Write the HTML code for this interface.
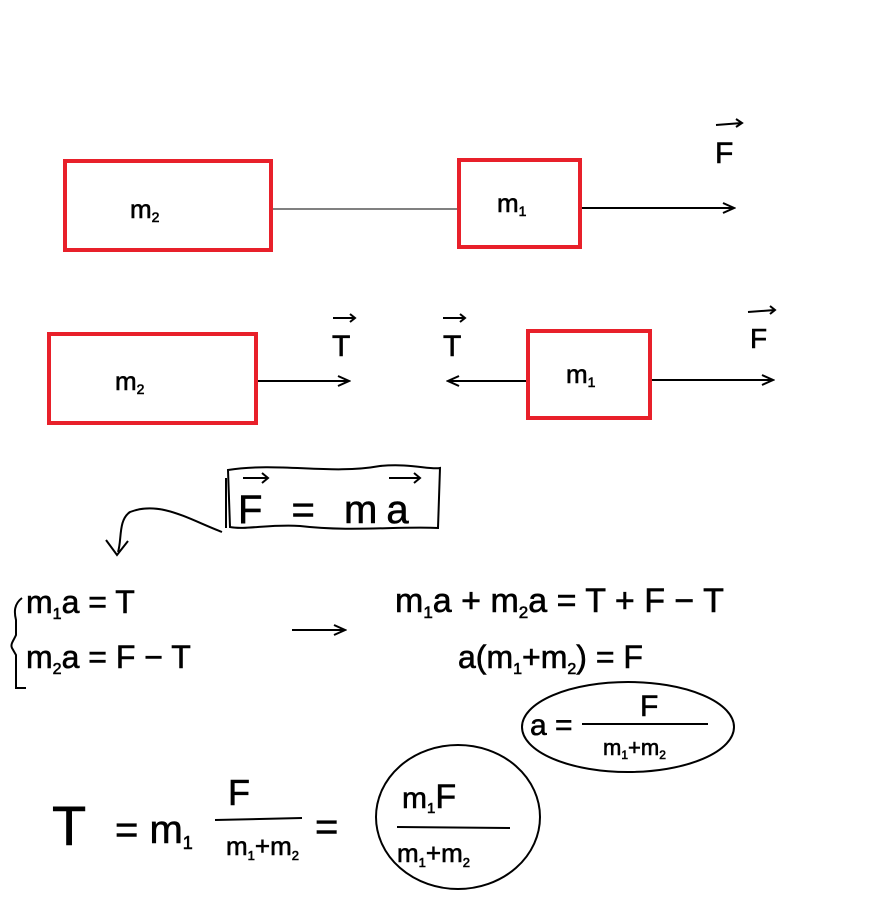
<!DOCTYPE html>
<html><head><meta charset="utf-8"><style>
html,body{margin:0;padding:0;background:#fff;}
svg{display:block;}
text{font-family:"Liberation Sans",sans-serif;fill:#000;stroke:#000;stroke-width:0.6;}
</style></head><body>
<svg width="892" height="898" viewBox="0 0 892 898" xmlns="http://www.w3.org/2000/svg">
<defs>
<marker id="ar" markerWidth="14" markerHeight="12" refX="12" refY="6" orient="auto" markerUnits="userSpaceOnUse">
<path d="M1,1 L12,6 L1,11" fill="none" stroke="#000" stroke-width="2"/>
</marker>
</defs>
<g fill="none" stroke="#e8202a" stroke-width="4">
<rect x="65" y="161" width="206" height="89"/>
<rect x="459" y="160" width="121" height="87"/>
<rect x="49" y="334" width="207" height="89"/>
<rect x="528" y="331" width="122" height="87"/>
</g>
<g stroke="#000" fill="none" stroke-width="2">
<line x1="273" y1="209" x2="457" y2="209" stroke-width="1"/>
<line x1="582" y1="208" x2="734" y2="208" marker-end="url(#ar)"/>
<line x1="258" y1="381" x2="349" y2="381" marker-end="url(#ar)"/>
<line x1="526" y1="381" x2="448" y2="381" marker-end="url(#ar)"/>
<line x1="652" y1="380" x2="773" y2="380" marker-end="url(#ar)"/>
<path d="M716 125 L742 123 M736 119 L742 123 L736 127"/>
<path d="M333 318 L355 318 M350 314 L355 318 L350 322"/>
<path d="M443 318 L465 318 M460 314 L465 318 L460 322"/>
<path d="M748 312 L775 310 M770 306 L775 310 L770 314"/>
<path d="M243 478 L268 478 M262 473 L268 478 L262 483"/>
<path d="M389 478 L420 478 M414 473 L420 478 L414 483"/>
<path d="M228 470 C280 462 330 475 380 466 C410 463 430 470 440 468 L438 528 C400 526 350 532 300 526 C270 524 245 530 230 527 Z"/>
<line x1="226" y1="478" x2="226" y2="528"/>
<path d="M222 532 C190 520 160 500 130 512 C118 520 122 540 118 552"/>
<path d="M106 540 L117 555 L128 541"/>
<path d="M22 598 C14 604 14 612 16 620 L16 635 C14 640 10 644 12 648 L16 655 L16 688 L26 688"/>
<line x1="292" y1="630" x2="345" y2="630" marker-end="url(#ar)"/>
<ellipse cx="628" cy="727" rx="106" ry="45"/>
<ellipse cx="458" cy="817" rx="82" ry="72"/>
<line x1="582" y1="724" x2="708" y2="724"/>
<line x1="215" y1="820" x2="302" y2="818"/>
<line x1="397" y1="827" x2="510" y2="828"/>
</g>
<g font-size="30">
<text x="715" y="163">F</text>
<text x="130" y="218" font-size="26">m<tspan font-size="14" dy="4">2</tspan></text>
<text x="497" y="212" font-size="26">m<tspan font-size="14" dy="4">1</tspan></text>
<text x="332" y="356">T</text>
<text x="443" y="356">T</text>
<text x="750" y="348" font-size="28">F</text>
<text x="115" y="390" font-size="26">m<tspan font-size="14" dy="4">2</tspan></text>
<text x="566" y="383" font-size="26">m<tspan font-size="14" dy="4">1</tspan></text>
<text x="238" y="523" font-size="40" letter-spacing="9">F = ma</text>
<text x="26" y="613" font-size="32">m<tspan font-size="16" dy="6">1</tspan><tspan dy="-6">a = T</tspan></text>
<text x="26" y="668" font-size="32">m<tspan font-size="16" dy="6">2</tspan><tspan dy="-6">a = F − T</tspan></text>
<text x="395" y="612" font-size="34">m<tspan font-size="17" dy="6">1</tspan><tspan dy="-6">a + m</tspan><tspan font-size="17" dy="6">2</tspan><tspan dy="-6">a = T + F − T</tspan></text>
<text x="458" y="668" font-size="32">a(m<tspan font-size="16" dy="6">1</tspan><tspan dy="-6">+m</tspan><tspan font-size="16" dy="6">2</tspan><tspan dy="-6">) = F</tspan></text>
<text x="530" y="735" font-size="30">a =</text>
<text x="640" y="716" font-size="30">F</text>
<text x="603" y="755" font-size="22">m<tspan font-size="12" dy="4">1</tspan><tspan dy="-4">+m</tspan><tspan font-size="12" dy="4">2</tspan></text>
<text x="52" y="845" font-size="56">T</text>
<text x="115" y="843" font-size="40">= m<tspan font-size="18" dy="6">1</tspan></text>
<text x="228" y="805" font-size="36">F</text>
<text x="226" y="855" font-size="26">m<tspan font-size="13" dy="5">1</tspan><tspan dy="-5">+m</tspan><tspan font-size="13" dy="5">2</tspan></text>
<text x="315" y="840" font-size="40">=</text>
<text x="402" y="808" font-size="30">m<tspan font-size="15" dy="5">1</tspan><tspan dy="-5" font-size="34">F</tspan></text>
<text x="397" y="862" font-size="26">m<tspan font-size="13" dy="5">1</tspan><tspan dy="-5">+m</tspan><tspan font-size="13" dy="5">2</tspan></text>
</g>
</svg>
</body></html>
